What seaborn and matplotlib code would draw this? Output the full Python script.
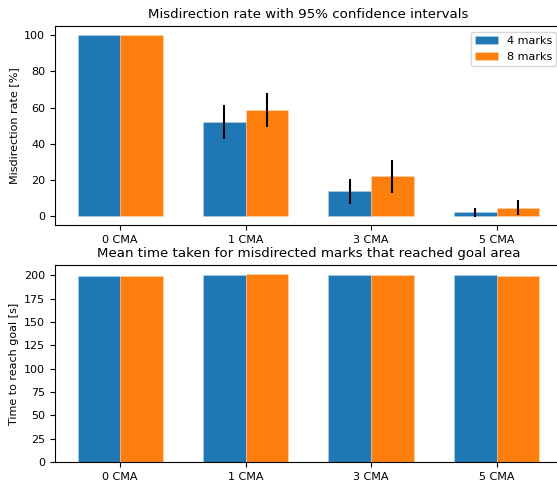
import matplotlib
matplotlib.use("Agg")
import matplotlib.pyplot as plt
import pandas as pd
import seaborn as sns

# --- datos ---
conditions = ["0 CMA", "1 CMA", "3 CMA", "5 CMA"]
groups = ["4 marks", "8 marks"]

rate_4 = [100.0, 51.9, 13.7, 2.0]
rate_8 = [100.0, 58.6, 21.9, 4.6]
ci_4 = [0.0, 9.5, 6.8, 2.5]
ci_8 = [0.0, 9.6, 9.3, 4.3]

time_4 = [198.9, 200.0, 200.4, 200.4]
time_8 = [199.6, 201.1, 200.0, 199.6]

colors = ["#1f77b4", "#ff7f0e"]


def long_table(vals_a, vals_b):
    return pd.DataFrame({
        "condition": conditions * 2,
        "group": [groups[0]] * len(conditions) + [groups[1]] * len(conditions),
        "value": list(vals_a) + list(vals_b),
    })


def draw_bars(ax, df, legend):
    sns.barplot(data=df, x="condition", y="value", hue="group",
                hue_order=groups, palette=colors, saturation=1,
                width=0.68, gap=0, errorbar=None, legend=legend,
                edgecolor=(1, 1, 1, 0.25), linewidth=0.6, ax=ax)
    ax.set_xlim(-0.52, 3.52)
    ax.set_xlabel("")


def main():
    plt.rcParams["font.size"] = 8
    plt.rcParams["axes.titlesize"] = 9.6

    fig = plt.figure(figsize=(5.57, 4.84), dpi=100)
    ax1 = fig.add_axes([0.0987, 0.535, 0.910, 0.411])
    ax2 = fig.add_axes([0.0987, 0.0455, 0.910, 0.407])

    # --- arriba: tasa con intervalos de confianza ---
    draw_bars(ax1, long_table(rate_4, rate_8), legend=True)
    for cont, err in zip(ax1.containers, [ci_4, ci_8]):
        xs = [p.get_x() + p.get_width() / 2 for p in cont.patches]
        hs = [p.get_height() for p in cont.patches]
        ax1.errorbar(xs, hs, yerr=err, fmt="none", ecolor="black",
                     elinewidth=1.5, capsize=0)
    ax1.set_ylim(-5, 105)
    ax1.set_ylabel("Misdirection rate [%]")
    ax1.set_title("Misdirection rate with 95% confidence intervals")
    sns.move_legend(ax1, "upper right", title=None)

    # --- abajo: tiempo medio ---
    draw_bars(ax2, long_table(time_4, time_8), legend=False)
    ax2.set_ylim(0, 211)
    ax2.set_yticks(range(0, 201, 25))
    ax2.set_ylabel("Time to reach goal [s]")
    ax2.set_title("Mean time taken for misdirected marks that reached goal area")

    fig.savefig("out.png", dpi=100)
    plt.close(fig)


if __name__ == "__main__":
    main()
